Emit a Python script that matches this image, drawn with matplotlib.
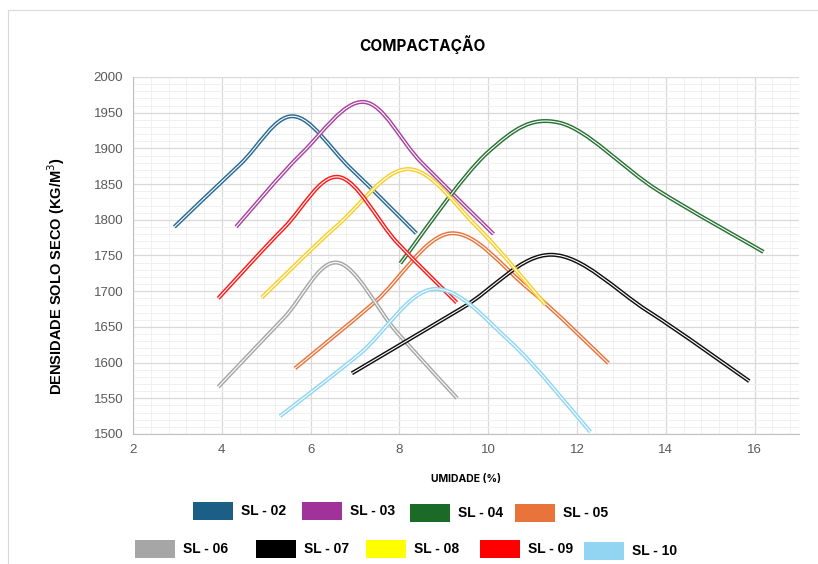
import matplotlib
matplotlib.use("Agg")
import matplotlib.pyplot as plt
from matplotlib.path import Path
from matplotlib.patches import PathPatch, Rectangle
from matplotlib.ticker import MultipleLocator
import numpy as np

# leituras do grafico original (umidade %, densidade kg/m3)
names = ["SL - 02", "SL - 03", "SL - 04", "SL - 05", "SL - 06",
         "SL - 07", "SL - 08", "SL - 09", "SL - 10"]
sl02_x = [2.93, 4.4, 5.6, 6.9, 8.38]
sl02_y = [1790, 1877, 1945, 1872, 1781]
sl03_x = [4.32, 5.8, 7.2, 8.5, 10.12]
sl03_y = [1790, 1893, 1965, 1880, 1780]
sl04_x = [8.02, 10.0, 11.6, 13.8, 16.2]
sl04_y = [1739, 1895, 1936, 1842, 1755]
sl05_x = [5.65, 7.45, 9.15, 10.9, 12.71]
sl05_y = [1592, 1685, 1781, 1704, 1599]
sl06_x = [3.92, 5.39, 6.6, 7.95, 9.3]
sl06_y = [1566, 1662, 1740, 1642, 1550]
sl07_x = [6.93, 9.4, 11.43, 13.6, 15.88]
sl07_y = [1585, 1676, 1751, 1672, 1574]
sl08_x = [4.9, 6.6, 8.2, 9.75, 11.29]
sl08_y = [1691, 1792, 1871, 1790, 1681]
sl09_x = [3.92, 5.39, 6.63, 7.95, 9.29]
sl09_y = [1690, 1788, 1860, 1768, 1684]
sl10_x = [5.31, 7.1, 8.77, 10.5, 12.3]
sl10_y = [1525, 1612, 1703, 1629, 1503]

xs = [sl02_x, sl03_x, sl04_x, sl05_x, sl06_x, sl07_x, sl08_x, sl09_x, sl10_x]
ys = [sl02_y, sl03_y, sl04_y, sl05_y, sl06_y, sl07_y, sl08_y, sl09_y, sl10_y]

line_colors = ["#2a6a93", "#a8449f", "#2a7235", "#e8743b", "#a6a6a6",
               "#111111", "#f7cf2a", "#ff1a1a", "#8fd5f3"]
legend_colors = ["#1b5f86", "#a0329a", "#1b6a28", "#e8743b", "#a6a6a6",
                 "#000000", "#ffff00", "#ff0000", "#91d5f3"]


def smooth_path(x, y):
    # curva suavizada tipo Excel (bezier catmull-rom)
    pts = np.column_stack([x, y]).astype(float)
    ext = np.vstack([pts[0], pts, pts[-1]])
    verts = [tuple(pts[0])]
    codes = [Path.MOVETO]
    for i in range(1, len(ext) - 2):
        p0, p1, p2, p3 = ext[i - 1], ext[i], ext[i + 1], ext[i + 2]
        c1 = p1 + (p2 - p0) / 6.0
        c2 = p2 - (p3 - p1) / 6.0
        verts += [tuple(c1), tuple(c2), tuple(p2)]
        codes += [Path.CURVE4] * 3
    return Path(verts, codes)


fig = plt.figure(figsize=(8.18, 5.64), dpi=100)
ax = fig.add_axes([0.1626, 0.2305, 0.8142, 0.633])

# borda do grafico
fig.add_artist(Rectangle((8 / 818, -0.1), 1.2, 1 - 10 / 564 + 0.1,
                         transform=fig.transFigure, fill=False,
                         edgecolor="#d9d9d9", lw=0.8))

for x, y, c in zip(xs, ys, line_colors):
    p = smooth_path(x, y)
    ax.add_patch(PathPatch(p, fill=False, edgecolor=c, lw=2.9,
                           capstyle="butt", joinstyle="round", zorder=3))
    ax.add_patch(PathPatch(p, fill=False, edgecolor="white", lw=0.8,
                           capstyle="butt", joinstyle="round", zorder=3))

ax.set_xlim(2, 17)
ax.set_ylim(1500, 2000)
ax.xaxis.set_major_locator(MultipleLocator(2))
ax.xaxis.set_minor_locator(MultipleLocator(0.4))
ax.yaxis.set_major_locator(MultipleLocator(50))
ax.yaxis.set_minor_locator(MultipleLocator(10))
ax.grid(which="major", color="#d9d9d9", lw=0.9)
ax.grid(which="minor", color="#f0f0f0", lw=0.7)
ax.set_axisbelow(True)
ax.tick_params(which="both", length=0)
ax.tick_params(axis="both", labelsize=9.5, colors="#595959", pad=7)
for lab in ax.get_xticklabels() + ax.get_yticklabels():
    lab.set_family(["Liberation Sans", "DejaVu Sans"])
for s in ["top", "right"]:
    ax.spines[s].set_visible(False)
for s in ["left", "bottom"]:
    ax.spines[s].set_color("#bfbfbf")
    ax.spines[s].set_linewidth(0.8)

fig.text(422 / 818, 1 - 45 / 564, "COMPACTAÇÃO", ha="center", va="center",
         fontsize=11, fontweight="bold", family=["Inter", "DejaVu Sans"])
fig.text(466 / 818, 1 - 479 / 564, "UMIDADE (%)", ha="center", va="center",
         fontsize=7.5, fontweight="bold", family=["Inter", "DejaVu Sans"])
fig.text(56 / 818, 1 - 276 / 564, "DENSIDADE SOLO SECO (KG/M$^3$)",
         ha="center", va="center", rotation=90, fontsize=10.5,
         fontweight="bold", family=["Liberation Sans", "DejaVu Sans"])

# legenda em duas linhas, como no original
leg_px = [(193, 511), (302, 511), (410, 513), (515, 513),
          (135, 549), (256, 549), (366, 549), (480, 549), (584, 551)]
for (px, py), c, n in zip(leg_px, legend_colors, names):
    fig.add_artist(Rectangle((px / 818, 1 - (py + 9) / 564), 40 / 818, 18 / 564,
                             transform=fig.transFigure, facecolor=c,
                             edgecolor="none"))
    fig.text((px + 48) / 818, 1 - py / 564, n, ha="left", va="center",
             fontsize=10, fontweight="bold", family=["Liberation Sans", "DejaVu Sans"])

fig.savefig("out.png", dpi=100)
